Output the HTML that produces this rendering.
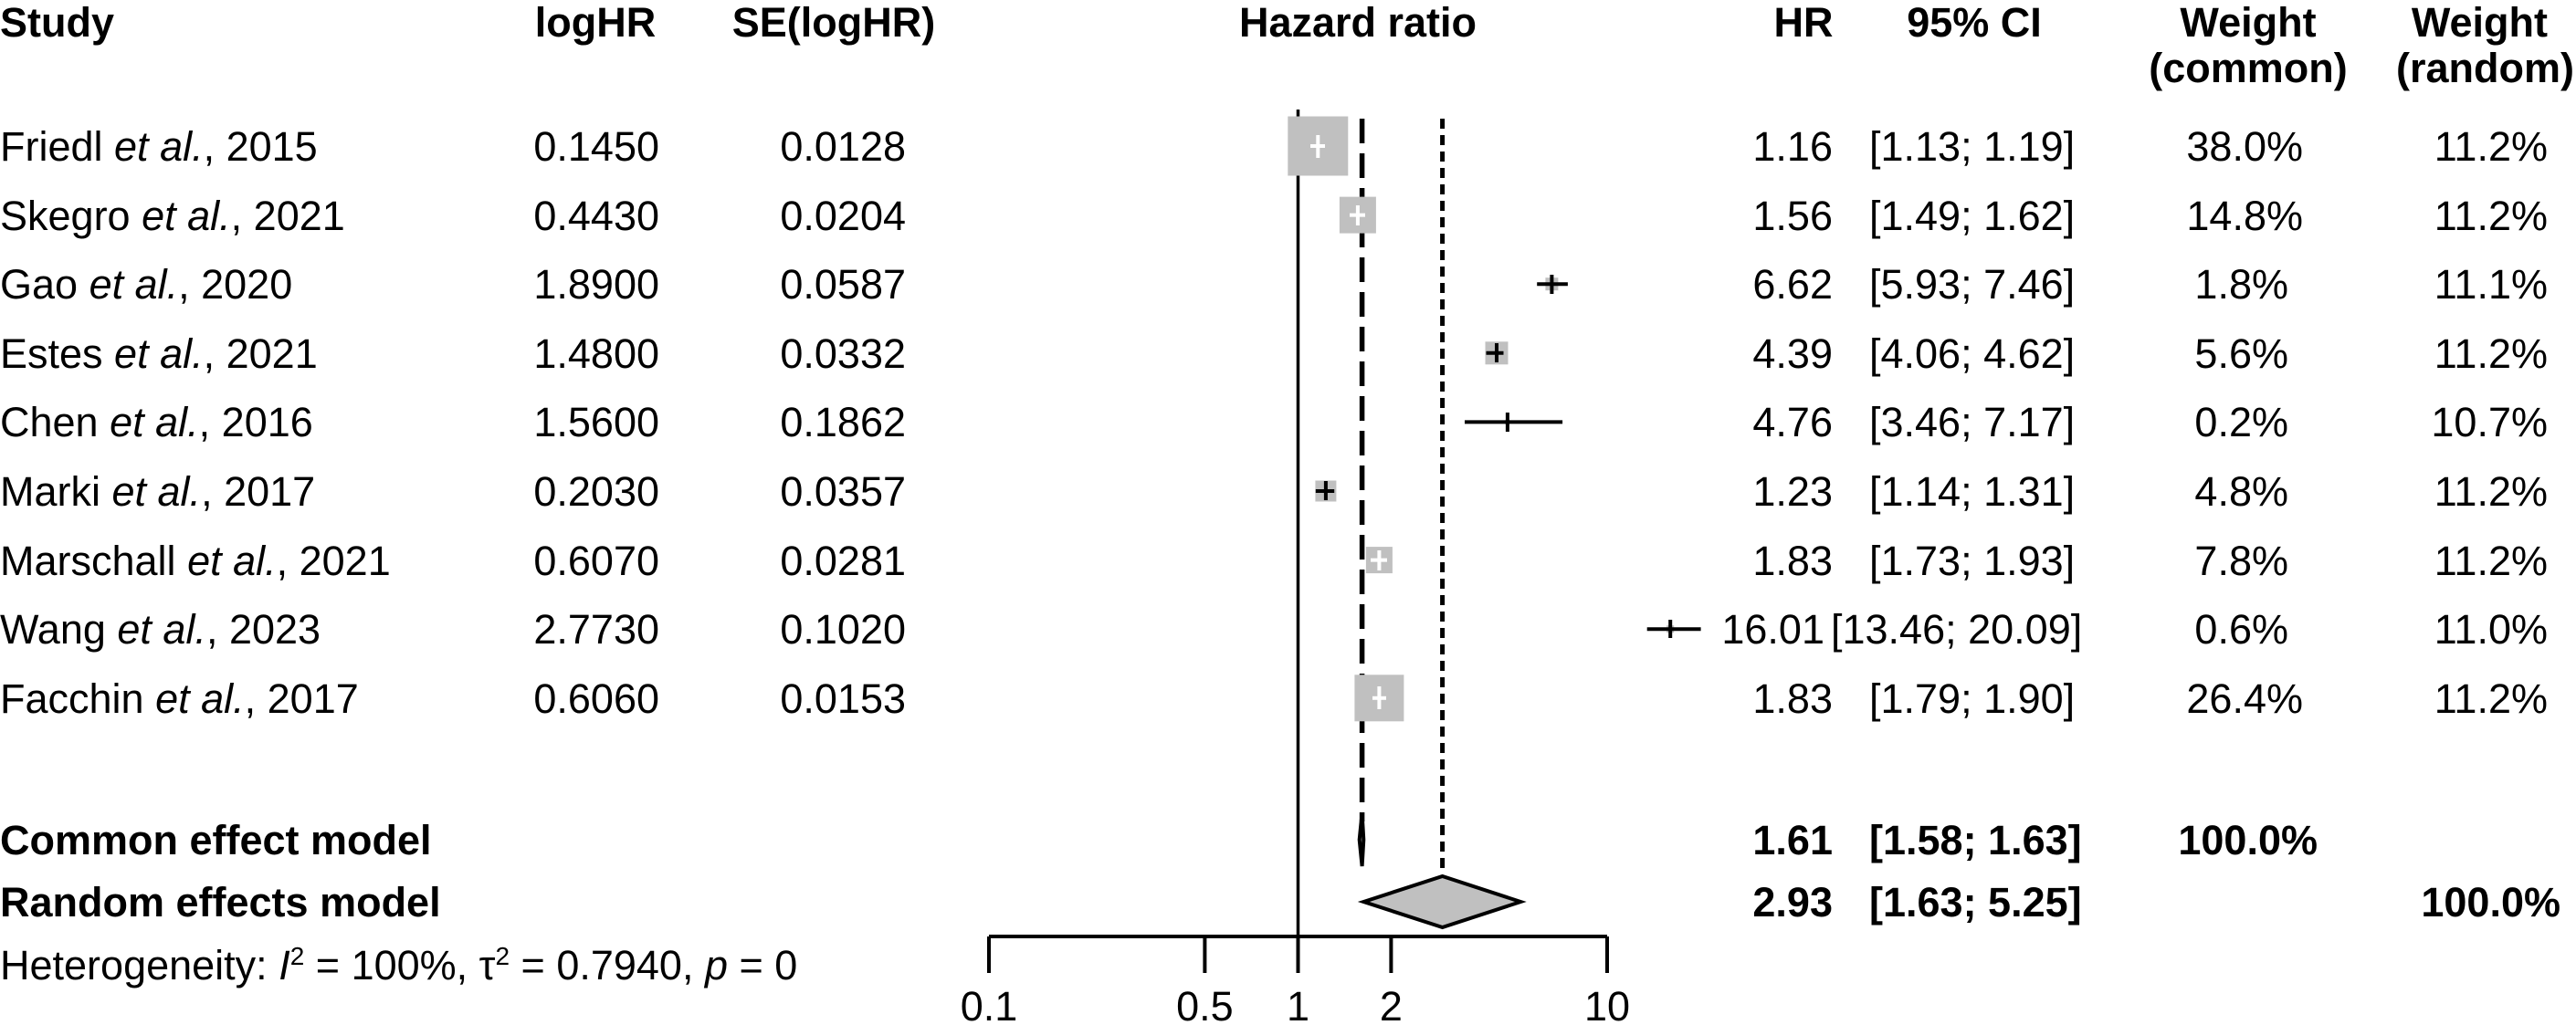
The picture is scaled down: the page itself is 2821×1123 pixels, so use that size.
<!DOCTYPE html>
<html><head><meta charset="utf-8"><style>
html,body{margin:0;padding:0;background:#fff;}
svg{display:block;}
text{font-family:"Liberation Sans",sans-serif;font-size:45px;fill:#000;}
.b{font-weight:bold;}
.e{text-anchor:end;}
.m{text-anchor:middle;}
</style></head><body>
<svg width="2821" height="1123" viewBox="0 0 2821 1123" xmlns="http://www.w3.org/2000/svg">
<!-- headers -->
<text class="b" x="0" y="40">Study</text>
<text class="b m" x="652" y="40">logHR</text>
<text class="b m" x="913" y="40">SE(logHR)</text>
<text class="b m" x="1487" y="40">Hazard ratio</text>
<text class="b m" x="1975" y="40">HR</text>
<text class="b m" x="2162" y="40">95% CI</text>
<text class="b m" x="2462" y="40">Weight</text>
<text class="b m" x="2462" y="90">(common)</text>
<text class="b e" x="2790" y="40">Weight</text>
<text class="b e" x="2819" y="90">(random)</text>

<!-- lines -->
<line x1="1421.5" y1="120" x2="1421.5" y2="1026" stroke="#000" stroke-width="3.5"/>
<line x1="1491.6" y1="130" x2="1491.6" y2="900" stroke="#000" stroke-width="5.5" stroke-dasharray="27,11"/>
<line x1="1579.6" y1="130" x2="1579.6" y2="958" stroke="#000" stroke-width="5" stroke-dasharray="11,7"/>

<!-- studies -->
<g fill="#c0c0c0">
<rect x="1410.3" y="127.5" width="66" height="65"/>
<rect x="1466.9" y="215.6" width="40" height="40"/>
<rect x="1692.4" y="304.2" width="14" height="14"/>
<rect x="1626.5" y="374.3" width="25" height="25"/>
<rect x="1648.4" y="459.9" width="5" height="5"/>
<rect x="1440.4" y="526.5" width="23" height="23"/>
<rect x="1495.9" y="599.1" width="29" height="29"/>
<rect x="1825.2" y="685.2" width="8" height="8"/>
<rect x="1483.4" y="739.3" width="54" height="51"/>
</g>
<g stroke-width="4">
<g stroke="#fff">
<line x1="1435" y1="160" x2="1451" y2="160"/><line x1="1443.3" y1="148" x2="1443.3" y2="173"/>
<line x1="1478" y1="235.6" x2="1495" y2="235.6"/><line x1="1486.9" y1="225" x2="1486.9" y2="247"/>
<line x1="1501" y1="613.6" x2="1519" y2="613.6"/><line x1="1510.4" y1="603" x2="1510.4" y2="625"/>
<line x1="1503" y1="764.8" x2="1518" y2="764.8"/><line x1="1510.4" y1="752" x2="1510.4" y2="777"/>
</g>
<g stroke="#000">
<line x1="1683.2" y1="311.2" x2="1716.9" y2="311.2"/><line x1="1699.4" y1="301" x2="1699.4" y2="322"/>
<line x1="1627.5" y1="386.8" x2="1646.5" y2="386.8"/><line x1="1639" y1="376" x2="1639" y2="397"/>
<line x1="1604" y1="462.4" x2="1711.1" y2="462.4"/><line x1="1650.9" y1="452" x2="1650.9" y2="473"/>
<line x1="1440.8" y1="538" x2="1461.2" y2="538"/><line x1="1451.9" y1="527" x2="1451.9" y2="548"/>
<line x1="1803.7" y1="689.2" x2="1862.6" y2="689.2"/><line x1="1829.2" y1="679" x2="1829.2" y2="699"/>
</g>
</g>

<!-- diamonds -->
<polygon points="1488.7,920 1491.6,891 1493.3,920 1491.6,949" fill="#c0c0c0" stroke="#000" stroke-width="4"/>
<polygon points="1493.3,988 1579.6,960 1665.3,988 1579.6,1016" fill="#c0c0c0" stroke="#000" stroke-width="4"/>

<!-- axis -->
<g stroke="#000" stroke-width="4">
<line x1="1083" y1="1026" x2="1760" y2="1026"/>
<line x1="1083" y1="1026" x2="1083" y2="1066"/>
<line x1="1319.4" y1="1026" x2="1319.4" y2="1066"/>
<line x1="1421.5" y1="1026" x2="1421.5" y2="1066"/>
<line x1="1523.4" y1="1026" x2="1523.4" y2="1066"/>
<line x1="1760" y1="1026" x2="1760" y2="1066"/>
</g>
<text class="m" x="1083" y="1118">0.1</text>
<text class="m" x="1319.4" y="1118">0.5</text>
<text class="m" x="1421.5" y="1118">1</text>
<text class="m" x="1523.4" y="1118">2</text>
<text class="m" x="1760" y="1118">10</text>

<!-- rows text -->
<g>
<text x="0" y="176">Friedl <tspan font-style="italic">et al.</tspan>, 2015</text>
<text x="0" y="252">Skegro <tspan font-style="italic">et al.</tspan>, 2021</text>
<text x="0" y="327">Gao <tspan font-style="italic">et al.</tspan>, 2020</text>
<text x="0" y="403">Estes <tspan font-style="italic">et al.</tspan>, 2021</text>
<text x="0" y="478">Chen <tspan font-style="italic">et al.</tspan>, 2016</text>
<text x="0" y="554">Marki <tspan font-style="italic">et al.</tspan>, 2017</text>
<text x="0" y="630">Marschall <tspan font-style="italic">et al.</tspan>, 2021</text>
<text x="0" y="705">Wang <tspan font-style="italic">et al.</tspan>, 2023</text>
<text x="0" y="781">Facchin <tspan font-style="italic">et al.</tspan>, 2017</text>
</g>
<g>
<text class="e" x="722" y="176">0.1450</text><text class="e" x="992" y="176">0.0128</text>
<text class="e" x="722" y="252">0.4430</text><text class="e" x="992" y="252">0.0204</text>
<text class="e" x="722" y="327">1.8900</text><text class="e" x="992" y="327">0.0587</text>
<text class="e" x="722" y="403">1.4800</text><text class="e" x="992" y="403">0.0332</text>
<text class="e" x="722" y="478">1.5600</text><text class="e" x="992" y="478">0.1862</text>
<text class="e" x="722" y="554">0.2030</text><text class="e" x="992" y="554">0.0357</text>
<text class="e" x="722" y="630">0.6070</text><text class="e" x="992" y="630">0.0281</text>
<text class="e" x="722" y="705">2.7730</text><text class="e" x="992" y="705">0.1020</text>
<text class="e" x="722" y="781">0.6060</text><text class="e" x="992" y="781">0.0153</text>
</g>
<text class="e" x="2007" y="176">1.16</text><text x="2047" y="176">[1.13; 1.19]</text><text class="e" x="2522" y="176">38.0%</text><text class="e" x="2790" y="176">11.2%</text>
<text class="e" x="2007" y="252">1.56</text><text x="2047" y="252">[1.49; 1.62]</text><text class="e" x="2522" y="252">14.8%</text><text class="e" x="2790" y="252">11.2%</text>
<text class="e" x="2007" y="327">6.62</text><text x="2047" y="327">[5.93; 7.46]</text><text class="e" x="2506" y="327">1.8%</text><text class="e" x="2790" y="327">11.1%</text>
<text class="e" x="2007" y="403">4.39</text><text x="2047" y="403">[4.06; 4.62]</text><text class="e" x="2506" y="403">5.6%</text><text class="e" x="2790" y="403">11.2%</text>
<text class="e" x="2007" y="478">4.76</text><text x="2047" y="478">[3.46; 7.17]</text><text class="e" x="2506" y="478">0.2%</text><text class="e" x="2790" y="478">10.7%</text>
<text class="e" x="2007" y="554">1.23</text><text x="2047" y="554">[1.14; 1.31]</text><text class="e" x="2506" y="554">4.8%</text><text class="e" x="2790" y="554">11.2%</text>
<text class="e" x="2007" y="630">1.83</text><text x="2047" y="630">[1.73; 1.93]</text><text class="e" x="2506" y="630">7.8%</text><text class="e" x="2790" y="630">11.2%</text>
<text class="e" x="1998" y="705">16.01</text><text x="2005" y="705">[13.46; 20.09]</text><text class="e" x="2506" y="705">0.6%</text><text class="e" x="2790" y="705">11.0%</text>
<text class="e" x="2007" y="781">1.83</text><text x="2047" y="781">[1.79; 1.90]</text><text class="e" x="2522" y="781">26.4%</text><text class="e" x="2790" y="781">11.2%</text>

<text class="b" x="0" y="936">Common effect model</text>
<text class="b e" x="2007" y="936">1.61</text><text class="b" x="2047" y="936">[1.58; 1.63]</text><text class="b e" x="2538" y="936">100.0%</text>
<text class="b" x="0" y="1004">Random effects model</text>
<text class="b e" x="2007" y="1004">2.93</text><text class="b" x="2047" y="1004">[1.63; 5.25]</text><text class="b e" x="2804" y="1004">100.0%</text>
<text x="0" y="1073">Heterogeneity: <tspan font-style="italic">I</tspan><tspan font-size="28" dy="-16">2</tspan><tspan dy="16"> = 100%, τ</tspan><tspan font-size="28" dy="-16">2</tspan><tspan dy="16"> = 0.7940, </tspan><tspan font-style="italic">p</tspan> = 0</text>
</svg>
</body></html>
